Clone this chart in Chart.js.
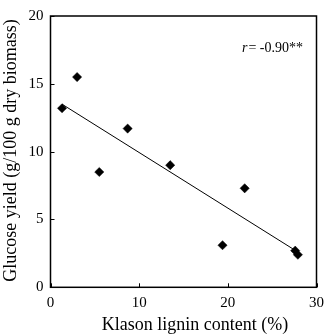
<!DOCTYPE html>
<html>
<head>
<meta charset="utf-8">
<script src="https://cdn.jsdelivr.net/npm/chart.js@4/dist/chart.umd.min.js"></script>
<style>
html,body{margin:0;padding:0;background:#fff;}
#wrap{width:331px;height:334px;}
</style>
</head>
<body>
<div id="wrap"><canvas id="c" width="331" height="334"></canvas></div>
<script>
const ligninX = [1.3, 3.0, 5.5, 8.7, 13.5, 19.4, 21.9, 27.6, 27.9];
const glucoseY = [13.2, 15.5, 8.5, 11.7, 9.0, 3.1, 7.3, 2.7, 2.4];
const fitX = [1.3, 27.9];
const fitY = [13.5, 2.6];
const xTicks = [0, 10, 20, 30];
const yTicks = [0, 5, 10, 15, 20];
const xTitle = 'Klason lignin content (%)';
const yTitle = 'Glucose yield (g/100 g dry biomass)';
const rLabel = 'r';
const rValue = '= -0.90**';
const rPos = [21.6, 17.6];

const FONT = '"Liberation Serif", "Times New Roman", serif';

const framePlugin = {
  id: 'frame',
  afterDraw(chart) {
    const ctx = chart.ctx;
    const a = chart.chartArea;
    const xs = chart.scales.x, ys = chart.scales.y;
    ctx.save();
    ctx.strokeStyle = '#000';
    ctx.lineWidth = 1.5;
    ctx.strokeRect(a.left, a.top, a.right - a.left, a.bottom - a.top);
    ctx.lineWidth = 1;
    ctx.beginPath();
    xTicks.forEach(v => {
      const px = Math.round(xs.getPixelForValue(v)) + 0.5;
      ctx.moveTo(px, a.bottom);
      ctx.lineTo(px, a.bottom - 4);
    });
    yTicks.forEach(v => {
      const py = Math.round(ys.getPixelForValue(v)) + 0.5;
      ctx.moveTo(a.left, py);
      ctx.lineTo(a.left + 4, py);
    });
    ctx.stroke();
    ctx.fillStyle = '#000';
    // annotation
    const tx = xs.getPixelForValue(rPos[0]);
    const ty = ys.getPixelForValue(rPos[1]);
    ctx.textBaseline = 'middle';
    ctx.textAlign = 'left';
    ctx.font = 'italic 14px ' + FONT;
    ctx.fillText(rLabel, tx, ty);
    const w = ctx.measureText(rLabel).width;
    ctx.font = '14px ' + FONT;
    ctx.fillText(rValue, tx + w + 1, ty);
    // axis titles
    ctx.font = '18px ' + FONT;
    ctx.textAlign = 'center';
    ctx.textBaseline = 'alphabetic';
    ctx.fillText(xTitle, 195, 330);
    ctx.save();
    ctx.translate(15.5, 150.5);
    ctx.rotate(-Math.PI / 2);
    ctx.fillText(yTitle, 0, 0);
    ctx.restore();
    ctx.restore();
  }
};

new Chart(document.getElementById('c'), {
  type: 'scatter',
  data: {
    datasets: [
      {
        label: 'data',
        data: ligninX.map((x, i) => ({x: x, y: glucoseY[i]})),
        pointStyle: 'rectRot',
        pointRadius: 4.6,
        pointBorderWidth: 0.5,
        backgroundColor: '#000',
        borderColor: '#000',
        order: 1
      },
      {
        label: 'fit',
        type: 'line',
        data: fitX.map((x, i) => ({x: x, y: fitY[i]})),
        borderColor: '#000',
        borderWidth: 1,
        pointRadius: 0,
        fill: false,
        order: 2
      }
    ]
  },
  options: {
    responsive: false,
    animation: false,
    devicePixelRatio: 1,
    layout: {padding: {top: 6.7, right: 9.3, bottom: 0, left: 0}},
    plugins: {legend: {display: false}, tooltip: {enabled: false}},
    scales: {
      x: {
        type: 'linear',
        min: 0, max: 30,
        afterBuildTicks: s => { s.ticks = xTicks.map(v => ({value: v})); },
        afterFit: s => { s.height = 46.7; },
        grid: {display: false, drawTicks: false},
        border: {display: false},
        ticks: {color: '#000', padding: 7, font: {family: FONT, size: 15}},
        title: {display: false}
      },
      y: {
        type: 'linear',
        min: 0, max: 20,
        afterBuildTicks: s => { s.ticks = yTicks.map(v => ({value: v})); },
        afterFit: s => { s.width = 50.5; },
        grid: {display: false, drawTicks: false},
        border: {display: false},
        ticks: {color: '#000', padding: 7, font: {family: FONT, size: 15}},
        title: {display: false}
      }
    }
  },
  plugins: [framePlugin]
});
</script>
</body>
</html>
